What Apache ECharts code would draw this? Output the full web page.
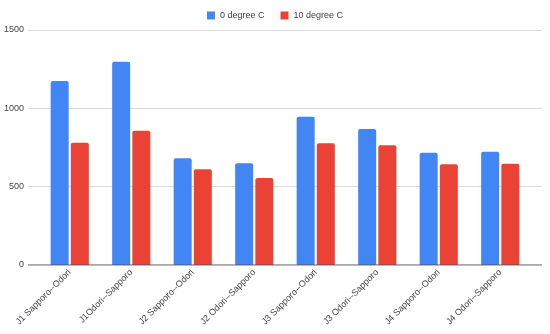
<!DOCTYPE html>
<html><head><meta charset="utf-8">
<script src="https://cdn.jsdelivr.net/npm/echarts@6/dist/echarts.min.js"></script>
<style>html,body{margin:0;padding:0;background:#fff}#c{width:550px;height:334px}</style>
</head><body><div id="c"></div>
<script>
const categories = ["J1 Sapporo--Odori","J1Odori--Sapporo","J2 Sapporo--Odori","J2 Odori--Sapporo","J3 Sapporo--Odori","J3 Odori--Sapporo","J4 Sapporo--Odori","J4 Odori--Sapporo"];
const series0 = [1174, 1298, 681, 649, 947, 868, 717, 723];
const series10 = [781, 857, 611, 555, 777, 764, 643, 647];
const yTicks = [0, 500, 1000, 1500];
const seriesNames = ["0 degree C", "10 degree C"];

const chart = echarts.init(document.getElementById('c'));
const font = 'Arial, "Liberation Sans", sans-serif';
chart.setOption({
  animation: false,
  legend: {
    top: 6, left: 'center', itemWidth: 8, itemHeight: 8, itemGap: 16,
    icon: 'rect',
    textStyle: {fontFamily: font, fontSize: 9, color: '#444'},
    data: seriesNames
  },
  grid: [
    {left: 28, right: 8, top: 30, bottom: 69},
    {left: 39, right: 19, top: 30, bottom: 69}
  ],
  xAxis: [
    {gridIndex: 0, type: 'value', min: 0, max: 1, show: false},
    {gridIndex: 1, type: 'category', data: categories,
     axisLine: {show: false}, axisTick: {show: false},
     axisLabel: {rotate: 45, fontFamily: font, fontSize: 9, color: '#444', margin: 6, interval: 0}}
  ],
  yAxis: [
    {gridIndex: 0, type: 'value', min: 0, max: yTicks[yTicks.length-1], interval: 500,
     axisLine: {show: false}, axisTick: {show: false},
     axisLabel: {fontFamily: font, fontSize: 9, color: '#444', margin: 4, formatter: v => String(v)},
     splitLine: {lineStyle: {color: '#dcdcdc', width: 1}}},
    {gridIndex: 1, type: 'value', min: 0, max: yTicks[yTicks.length-1], interval: 500, show: false}
  ],
  series: [
    {type: 'line', xAxisIndex: 0, yAxisIndex: 0, data: [[0,0],[1,0]], symbol: 'none',
     lineStyle: {color: '#555', width: 1}, silent: true, legendHoverLink: false, z: 5},
    {name: seriesNames[0], type: 'bar', xAxisIndex: 1, yAxisIndex: 1, data: series0,
     barWidth: 18, barGap: '12%', itemStyle: {color: '#4285F4', borderRadius: [2,2,0,0]}},
    {name: seriesNames[1], type: 'bar', xAxisIndex: 1, yAxisIndex: 1, data: series10,
     barWidth: 18, barGap: '12%', itemStyle: {color: '#EA4335', borderRadius: [2,2,0,0]}}
  ]
});
</script></body></html>
